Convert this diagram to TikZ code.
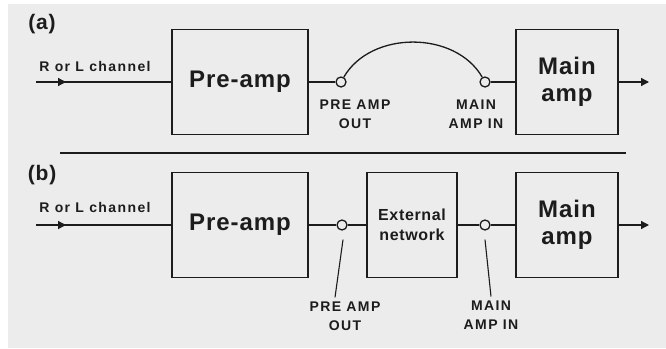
\documentclass[tikz,border=0pt]{standalone}
\usepackage{fontspec}
\setmainfont{Liberation Sans}[LetterSpace=10]
\newfontfamily\boxfont{Liberation Sans}[LetterSpace=4]
\usetikzlibrary{arrows.meta,positioning}
\definecolor{paper}{HTML}{ECECEC}
\definecolor{ink}{HTML}{1C1C1C}

\begin{document}
\begin{tikzpicture}[x=1pt, y=1pt,
    box/.style={draw=ink, line width=1.6pt, fill=paper, text=ink, align=center,
                inner sep=0pt, minimum height=105pt, font=\boxfont\bfseries\fontsize{24}{27}\selectfont},
    jack/.style={circle, draw=ink, line width=1.3pt, fill=paper, minimum size=10pt, inner sep=0pt},
    wire/.style={draw=ink, line width=1.3pt},
    lbl/.style={text=ink, align=center, inner sep=0pt, font=\bfseries\fontsize{14}{19}\selectfont},
    tag/.style={text=ink, inner sep=0pt, font=\boxfont\bfseries\fontsize{21}{24}\selectfont},
    tip/.style={-{Triangle[length=8pt, width=8pt]}},
]
  \useasboundingbox (0,0) rectangle (666,-348);
  \fill[white] (0,0) rectangle (666,-348);
  \fill[paper] (8,-4) rectangle (666,-348);

  % (a) direct link
  \node[tag] (tagA) at (42,-24) {(a)};
  \node[lbl] (chA) at (95,-66) {R or L channel};
  \coordinate (inA) at (36,-82);
  \node[box, minimum width=136pt] (preA) at (240,-82) {Pre-amp};
  \node[jack] (poA) at (341,-82) {};
  \node[jack] (miA) at (485,-82) {};
  \node[box, minimum width=102pt] (mainA) at (567,-82) {Main\\amp};
  \coordinate (outA) at (649,-82);
  \node[lbl] (poAl) at (355,-114) {PRE AMP\\OUT};
  \node[lbl] (miAl) at (476,-114) {MAIN\\AMP IN};

  \draw[wire] (inA) -- (preA);
  \draw[wire, tip] (inA) -- ++(30,0);
  \draw[wire] (preA) -- (poA);
  \draw[wire] (poA) to[out=60, in=120] (miA);
  \draw[wire] (miA) -- (mainA);
  \draw[wire, tip] (mainA) -- (outA);

  \draw[wire] (60,-153) -- (626,-153);

  % (b) external network
  \node[tag] (tagB) at (42,-175) {(b)};
  \node[lbl] (chB) at (95,-207) {R or L channel};
  \coordinate (inB) at (36,-225);
  \node[box, minimum width=136pt] (preB) at (240,-225) {Pre-amp};
  \node[jack] (poB) at (342,-225) {};
  \node[box, minimum width=90pt, font=\boxfont\bfseries\fontsize{16}{20}\selectfont] (extB) at (412,-225) {External\\network};
  \node[jack] (miB) at (485,-225) {};
  \node[box, minimum width=102pt] (mainB) at (567,-225) {Main\\amp};
  \coordinate (outB) at (649,-225);
  \node[lbl] (poBl) at (345,-316) {PRE AMP\\OUT};
  \node[lbl] (miBl) at (491,-315) {MAIN\\AMP IN};

  \draw[wire] (inB) -- (preB);
  \draw[wire, tip] (inB) -- ++(30,0);
  \draw[wire] (preB) -- (poB) -- (extB);
  \draw[wire] (extB) -- (miB) -- (mainB);
  \draw[wire, tip] (mainB) -- (outB);
  \draw[wire, line width=1.1pt] ([shift={(1pt,-9pt)}]poB.south) -- ([xshift=-10pt, yshift=4pt]poBl.north);
  \draw[wire, line width=1.1pt] ([yshift=-9pt]miB.south) -- ([yshift=4pt]miBl.north);
\end{tikzpicture}
\end{document}
